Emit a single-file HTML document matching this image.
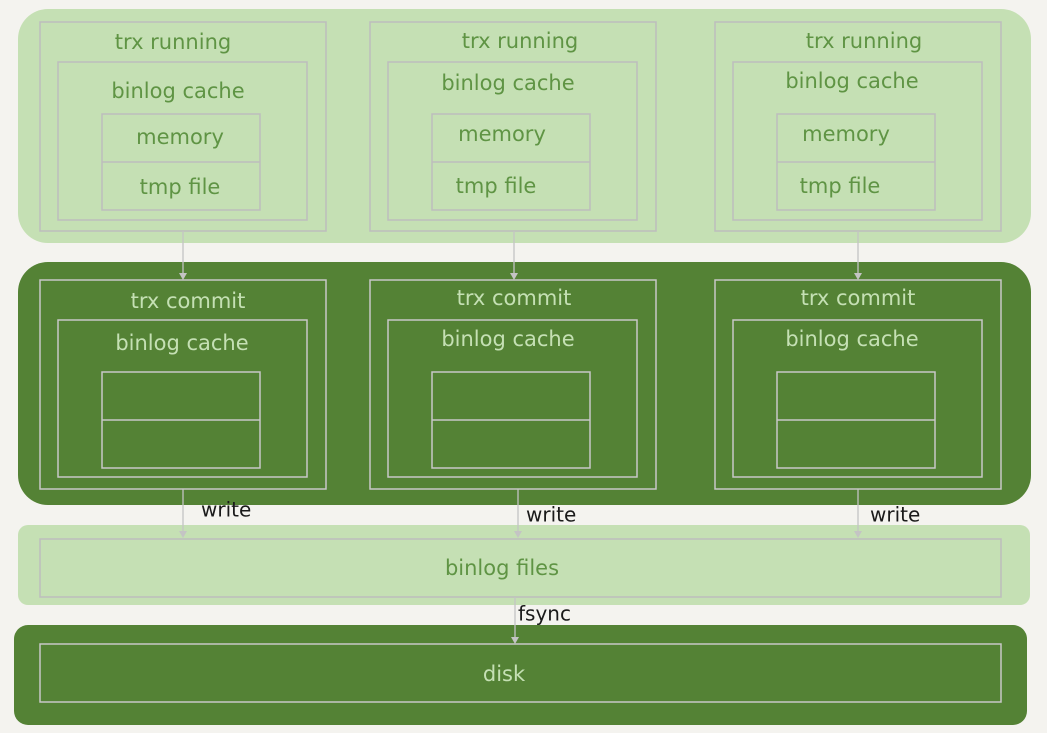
<!DOCTYPE html>
<html><head><meta charset="utf-8"><style>
html,body{margin:0;padding:0;background:#f4f3ef;}
svg{display:block}
text{font-family:"DejaVu Sans","Liberation Sans",sans-serif;font-size:21px;text-anchor:middle;dominant-baseline:middle}
.lt{fill:#5f9444}
.dk{fill:#c5e0b4}
.bl{fill:#1a1a1a;text-anchor:start;font-size:20px}
</style></head><body>
<svg width="1047" height="733" viewBox="0 0 1047 733" xmlns="http://www.w3.org/2000/svg">
<rect x="0" y="0" width="1047" height="733" fill="#f4f3ef"/>
<rect x="18" y="9" width="1013" height="234" rx="30" fill="#c5e0b4"/>
<g fill="none" stroke="#bdbdbd" stroke-width="1.5">
<rect x="40" y="22" width="286" height="209"/><rect x="58" y="62" width="249" height="158"/><rect x="102" y="114" width="158" height="96"/><line x1="102" y1="162" x2="260" y2="162"/>
<rect x="370" y="22" width="286" height="209"/><rect x="388" y="62" width="249" height="158"/><rect x="432" y="114" width="158" height="96"/><line x1="432" y1="162" x2="590" y2="162"/>
<rect x="715" y="22" width="286" height="209"/><rect x="733" y="62" width="249" height="158"/><rect x="777" y="114" width="158" height="96"/><line x1="777" y1="162" x2="935" y2="162"/>
</g>
<text class="lt" x="173" y="43">trx running</text><text class="lt" x="178" y="92">binlog cache</text><text class="lt" x="180" y="138">memory</text><text class="lt" x="180" y="188">tmp file</text>
<text class="lt" x="520" y="42">trx running</text><text class="lt" x="508" y="84">binlog cache</text><text class="lt" x="502" y="135">memory</text><text class="lt" x="496" y="187">tmp file</text>
<text class="lt" x="864" y="42">trx running</text><text class="lt" x="852" y="82">binlog cache</text><text class="lt" x="846" y="135">memory</text><text class="lt" x="840" y="187">tmp file</text>
<rect x="18" y="262" width="1013" height="243" rx="30" fill="#548235"/>
<g fill="none" stroke="#c8c8c8" stroke-width="1.5">
<rect x="40" y="280" width="286" height="209"/><rect x="58" y="320" width="249" height="157"/><rect x="102" y="372" width="158" height="96"/><line x1="102" y1="420" x2="260" y2="420"/>
<rect x="370" y="280" width="286" height="209"/><rect x="388" y="320" width="249" height="157"/><rect x="432" y="372" width="158" height="96"/><line x1="432" y1="420" x2="590" y2="420"/>
<rect x="715" y="280" width="286" height="209"/><rect x="733" y="320" width="249" height="157"/><rect x="777" y="372" width="158" height="96"/><line x1="777" y1="420" x2="935" y2="420"/>
</g>
<text class="dk" x="188" y="302">trx commit</text><text class="dk" x="182" y="344">binlog cache</text>
<text class="dk" x="514" y="299">trx commit</text><text class="dk" x="508" y="340">binlog cache</text>
<text class="dk" x="858" y="299">trx commit</text><text class="dk" x="852" y="340">binlog cache</text>
<rect x="18" y="525" width="1012" height="80" rx="10" fill="#c5e0b4"/>
<rect x="40" y="539" width="961" height="58" fill="none" stroke="#bdbdbd" stroke-width="1.5"/>
<text class="lt" x="502" y="569">binlog files</text>
<rect x="14" y="625" width="1013" height="100" rx="14" fill="#548235"/>
<rect x="40" y="644" width="961" height="58" fill="none" stroke="#c8c8c8" stroke-width="1.5"/>
<text class="dk" x="504" y="675">disk</text>
<g stroke="#c4c4c4" stroke-width="1.3">
<line x1="183" y1="231" x2="183" y2="274"/><line x1="514" y1="231" x2="514" y2="274"/><line x1="858" y1="231" x2="858" y2="274"/>
<line x1="183" y1="489" x2="183" y2="532"/><line x1="518" y1="489" x2="518" y2="532"/><line x1="858" y1="489" x2="858" y2="532"/>
<line x1="515" y1="597" x2="515" y2="638"/>
</g>
<g fill="#c4c4c4">
<polygon points="179,273 187,273 183,280"/><polygon points="510,273 518,273 514,280"/><polygon points="854,273 862,273 858,280"/>
<polygon points="179,531 187,531 183,538"/><polygon points="514,531 522,531 518,538"/><polygon points="854,531 862,531 858,538"/>
<polygon points="511,637 519,637 515,644"/>
</g>
<text class="bl" x="201" y="511">write</text>
<text class="bl" x="526" y="516">write</text>
<text class="bl" x="870" y="516">write</text>
<text class="bl" x="518" y="615">fsync</text>
</svg>
</body></html>
